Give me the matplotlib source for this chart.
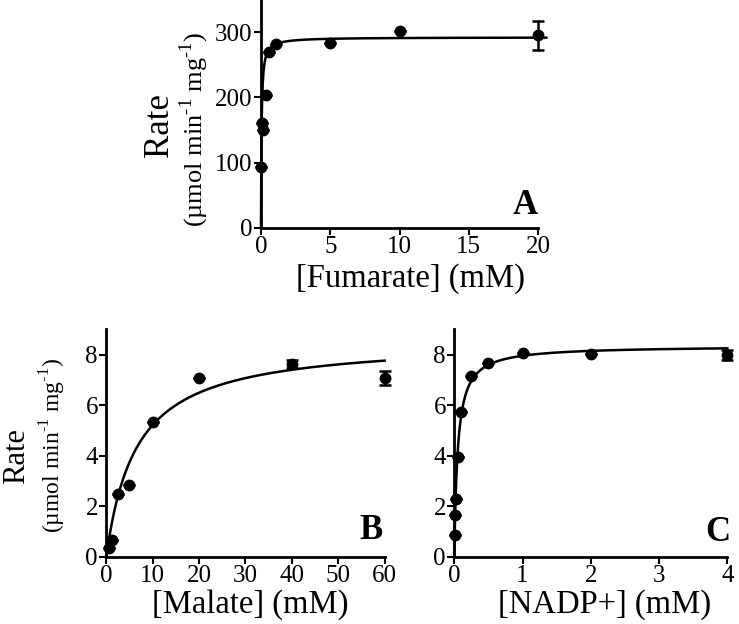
import numpy as np
import matplotlib
matplotlib.use("Agg")
import matplotlib.pyplot as plt

plt.rcParams['font.family'] = ['Liberation Serif', 'DejaVu Serif']
plt.rcParams['mathtext.fontset'] = 'custom'
plt.rcParams['mathtext.rm'] = 'Liberation Serif'

# panel A: fumarate
fum_conc = [0.03, 0.15, 0.07, 0.35, 0.55, 1.05, 5, 10, 20]
fum_rate = [94, 150, 161, 204, 270, 281, 283, 301, 295]
fum_err = [0, 0, 0, 0, 0, 0, 0, 0, 22]
fum_vmax, fum_km = 292, 0.04

# panel B: malate
mal_conc = [0.5, 1.3, 2.5, 5, 10, 20, 40, 60]
mal_rate = [0.33, 0.65, 2.48, 2.82, 5.35, 7.09, 7.63, 7.07]
mal_err = [0, 0, 0, 0, 0, 0, 0.15, 0.27]
mal_vmax, mal_km = 8.6, 6.5

# panel C: NADP+
nadp_conc = [0.005, 0.01, 0.02, 0.05, 0.1, 0.25, 0.5, 1, 2, 4]
nadp_rate = [0.85, 1.65, 2.27, 3.94, 5.74, 7.15, 7.66, 8.05, 8.04, 8.0]
nadp_err = [0, 0, 0, 0, 0, 0, 0, 0, 0, 0.2]
nadp_vmax, nadp_km = 8.35, 0.05


def mm(x, vmax, km):
    return vmax * x / (km + x)


def style(ax):
    for s in ['top', 'right']:
        ax.spines[s].set_visible(False)
    for s in ['left', 'bottom']:
        ax.spines[s].set_linewidth(2)
    ax.tick_params(direction='out', length=5, width=1.5, labelsize=18, pad=1)


fig = plt.figure(figsize=(7.39, 6.24), dpi=100)

axA = fig.add_axes([261 / 739, 1 - 228 / 624, 277 / 739, 228.6 / 624])
axB = fig.add_axes([106.3 / 739, 1 - 556.7 / 624, 278.3 / 739, 227.4 / 624])
axC = fig.add_axes([454.3 / 739, 1 - 556.7 / 624, 273 / 739, 227.4 / 624])

panels = [
    (axA, fum_conc, fum_rate, fum_err, fum_vmax, fum_km, 20.6, (0, 20), (0, 350),
     [0, 5, 10, 15, 20], [0, 100, 200, 300], '[Fumarate] (mM)', (0.538, -0.152)),
    (axB, mal_conc, mal_rate, mal_err, mal_vmax, mal_km, 60, (0, 60), (0, 9),
     [0, 10, 20, 30, 40, 50, 60], [0, 2, 4, 6, 8], '[Malate] (mM)', (0.516, -0.145)),
    (axC, nadp_conc, nadp_rate, nadp_err, nadp_vmax, nadp_km, 4, (0, 4), (0, 9),
     [0, 1, 2, 3, 4], [0, 2, 4, 6, 8], '[NADP+] (mM)', (0.552, -0.145)),
]

for ax, xs, ys, errs, vmax, km, xend, xl, yl, xt, yt, xlab, labpos in panels:
    xx = np.linspace(0, xend, 800)
    ax.plot(xx, mm(xx, vmax, km), color='black', lw=1.8, clip_on=False)
    ax.errorbar(xs, ys, yerr=errs, fmt='o', color='black', ms=7.5,
                elinewidth=1.8, capsize=4, capthick=1.8, clip_on=False)
    ax.set_xlim(*xl)
    ax.set_ylim(*yl)
    ax.set_xticks(xt)
    ax.set_yticks(yt)
    ax.set_xlabel(xlab, fontsize=23.5)
    ax.xaxis.set_label_coords(*labpos)
    style(ax)

axA.text(0.953, 0.10, 'A', transform=axA.transAxes, fontsize=25,
         fontweight='bold', ha='center', va='center')
axB.text(0.951, 0.117, 'B', transform=axB.transAxes, fontsize=25,
         fontweight='bold', ha='center', va='center')
axC.text(0.966, 0.108, 'C', transform=axC.transAxes, fontsize=25,
         fontweight='bold', ha='center', va='center')

unit = '(\u00b5mol min$^{\\text{-}1}$ mg$^{\\text{-}1}$)'

axA.text(-0.368, 0.45, 'Rate', transform=axA.transAxes, rotation=90,
         fontsize=25, ha='center', va='center')
axA.text(-0.242, 0.433, unit, transform=axA.transAxes, rotation=90,
         fontsize=19, ha='center', va='center')
axB.text(-0.321, 0.443, 'Rate', transform=axB.transAxes, rotation=90,
         fontsize=22, ha='center', va='center')
axB.text(-0.192, 0.491, unit, transform=axB.transAxes, rotation=90,
         fontsize=17, ha='center', va='center')

fig.savefig('out.png', dpi=100)
